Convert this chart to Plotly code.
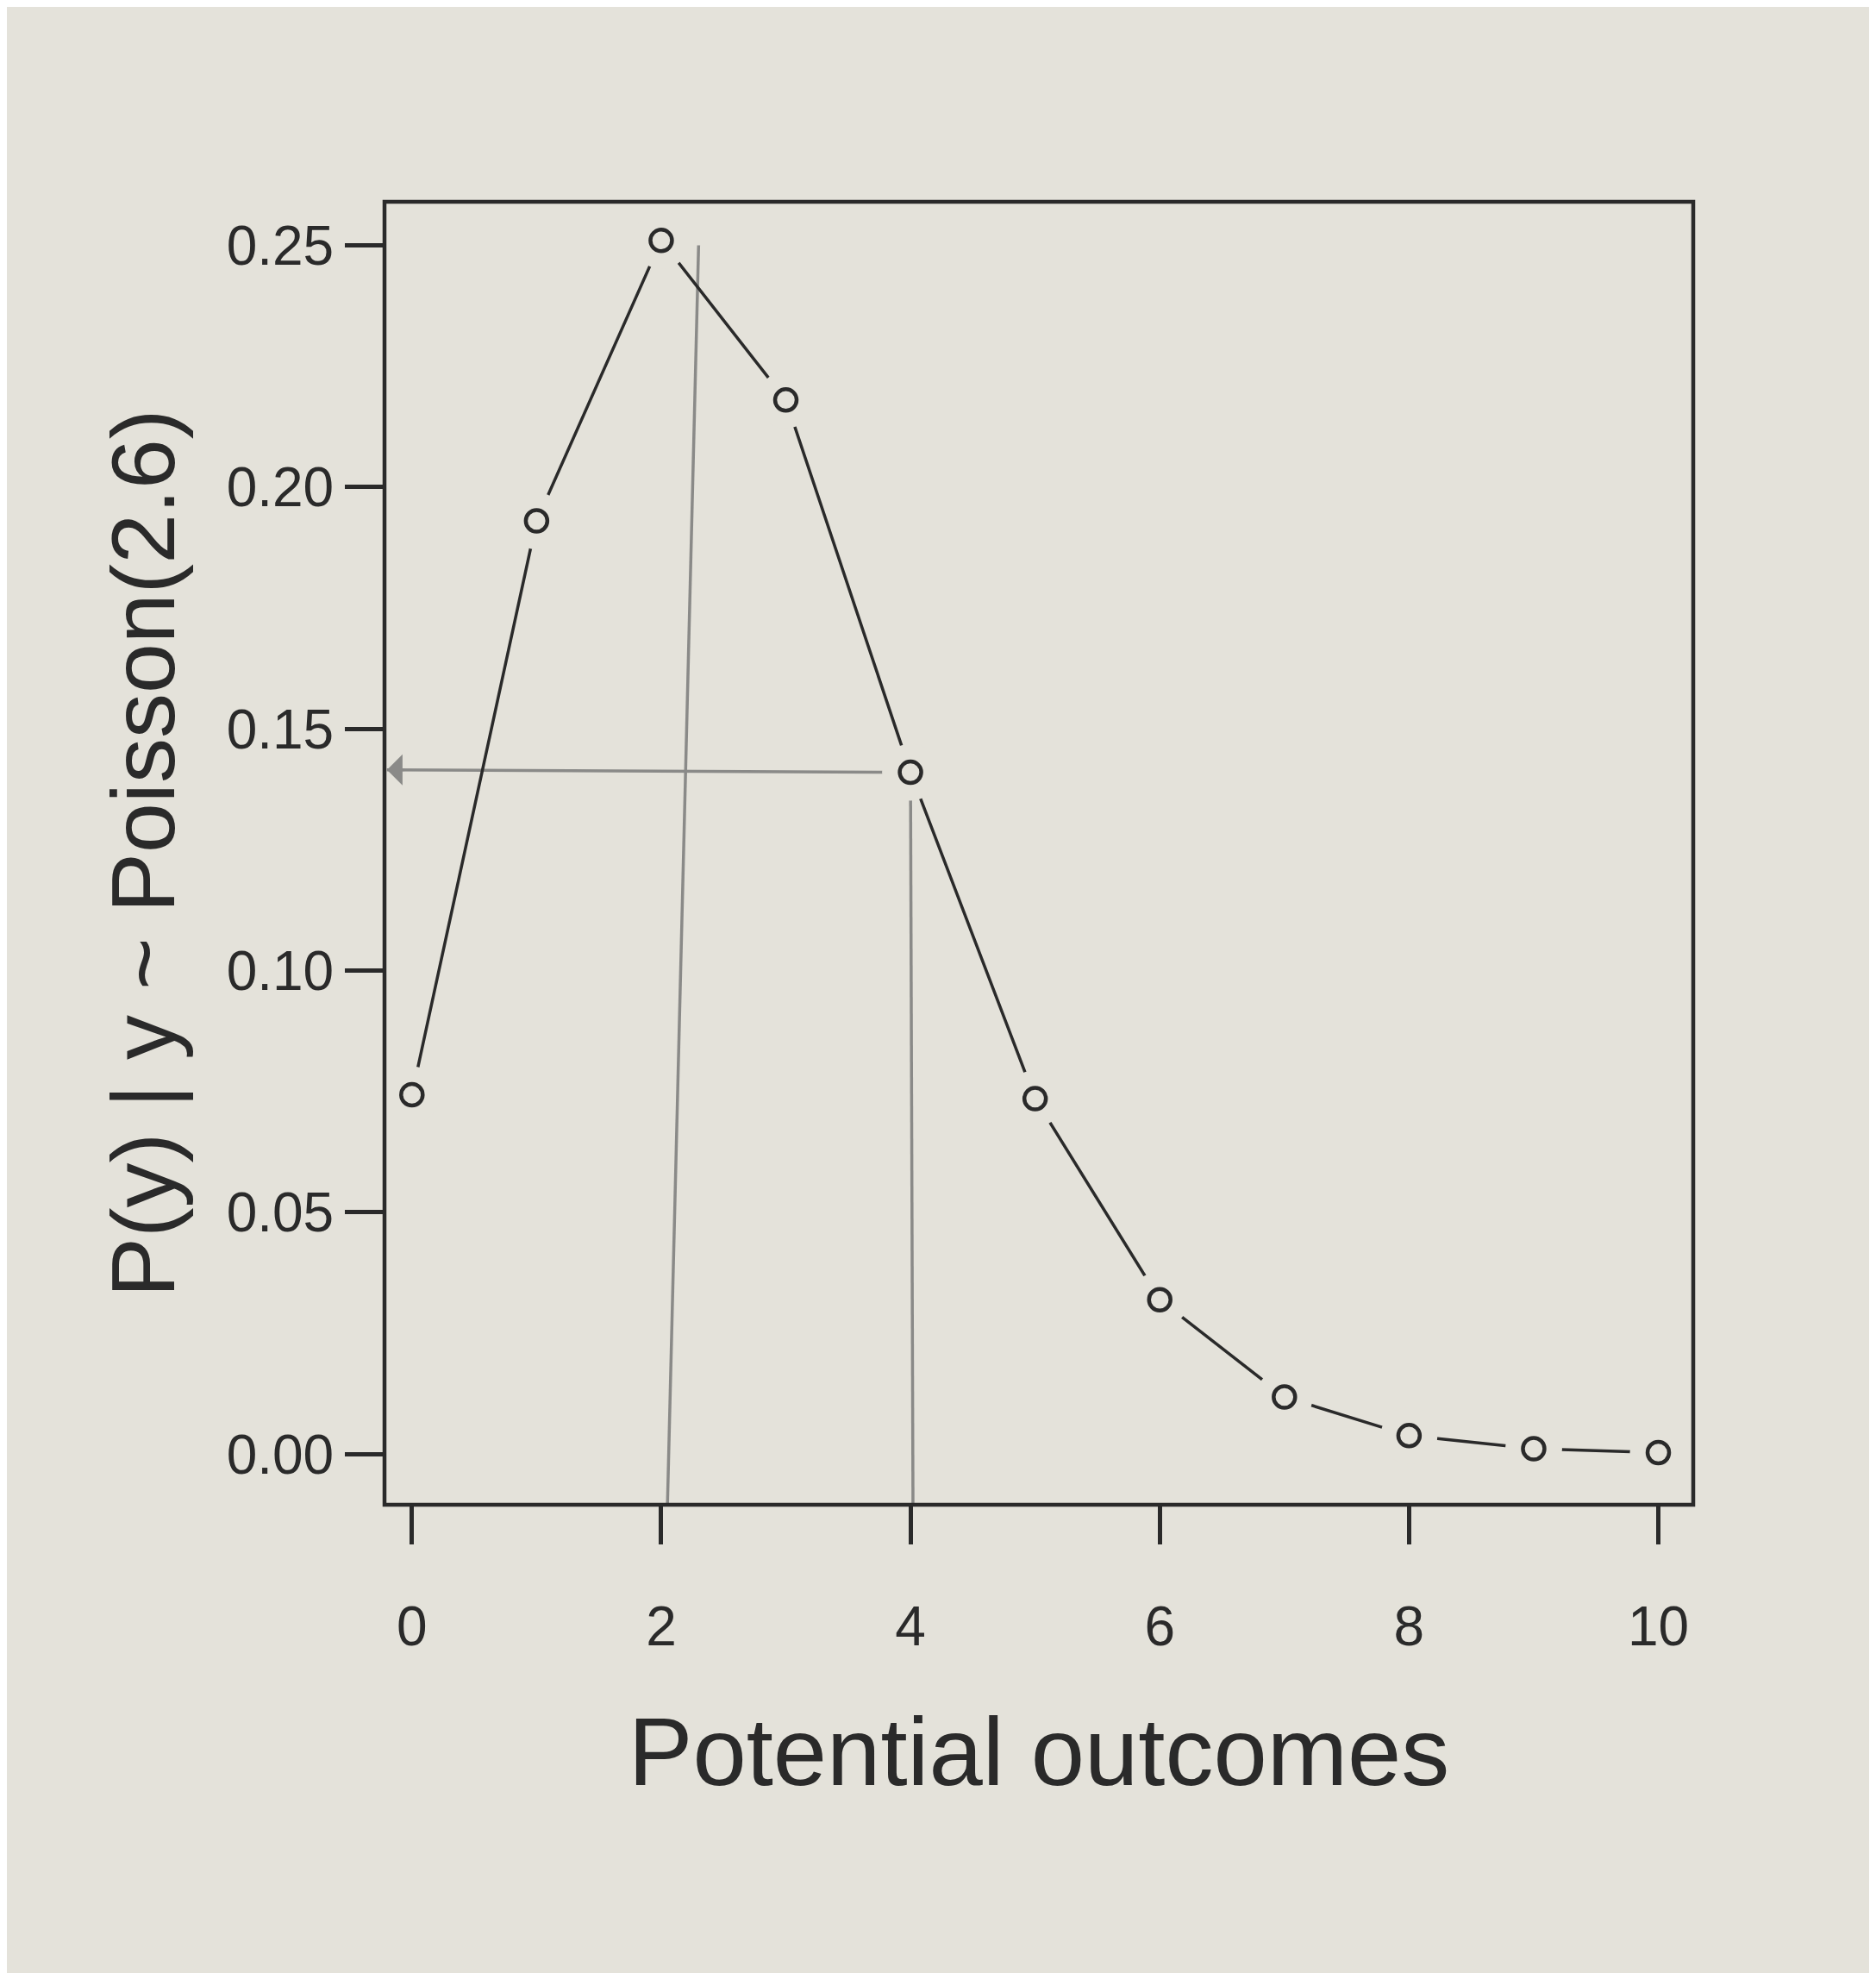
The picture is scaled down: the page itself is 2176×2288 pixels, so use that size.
import plotly.graph_objects as go

# Poisson(2.6) probabilities
outcomes = [0, 1, 2, 3, 4, 5, 6, 7, 8, 9, 10]
probs = [0.0743, 0.193, 0.251, 0.218, 0.141, 0.0735, 0.0319, 0.0118, 0.0038, 0.0011, 0.0003]

# pencil marks drawn on the page
pencil_v1_x = [2.3, 2.05]
pencil_v1_y = [0.25, -0.0105]
pencil_v2_x = [4.0, 4.02]
pencil_v2_y = [0.141, -0.0105]
pencil_h_x = [4.0, -0.2]
pencil_h_y = [0.141, 0.1415]

paper = "#e4e2da"
ink = "#2a2a2a"
pencil = "#8a8a88"

fig = go.Figure()
fig.add_trace(go.Scatter(x=pencil_v1_x, y=pencil_v1_y, mode="lines",
                         line=dict(color=pencil, width=3.5)))
fig.add_trace(go.Scatter(x=pencil_v2_x, y=pencil_v2_y, mode="lines",
                         line=dict(color=pencil, width=3.5)))
fig.add_trace(go.Scatter(x=pencil_h_x, y=pencil_h_y, mode="lines",
                         line=dict(color=pencil, width=3.5)))
fig.add_trace(go.Scatter(x=outcomes, y=probs, mode="lines",
                         line=dict(color=ink, width=3.5)))
# gap around points like R type="b"
fig.add_trace(go.Scatter(x=outcomes, y=probs, mode="markers",
                         marker=dict(size=66, color=paper, line=dict(width=0))))
fig.add_trace(go.Scatter(x=outcomes, y=probs, mode="markers",
                         marker=dict(size=25, color=paper, line=dict(color=ink, width=4.5))))

fig.add_annotation(x=-0.2, y=0.1415, ax=-0.05, ay=0.1415, xref="x", yref="y",
                   axref="x", ayref="y", showarrow=True, arrowhead=1, arrowsize=2,
                   arrowwidth=3, arrowcolor=pencil, text="")

fig.add_shape(type="rect", xref="paper", yref="paper", x0=0, y0=0, x1=1, y1=1,
              line=dict(color=ink, width=4.5))

font = dict(family="Liberation Sans, Arial, sans-serif", color=ink)
fig.update_layout(
    width=2176, height=2288,
    paper_bgcolor=paper, plot_bgcolor=paper,
    showlegend=False,
    margin=dict(l=438, r=220, t=226, b=551),
    font=font,
    xaxis=dict(range=[-0.22, 10.28], tickvals=[0, 2, 4, 6, 8, 10], showgrid=False,
               zeroline=False, ticks="outside", ticklen=45, tickwidth=4.5, tickcolor=ink,
               tickfont=dict(size=64, color=ink), ticklabelstandoff=40,
               title=dict(text="Potential outcomes", font=dict(size=112, color=ink), standoff=70)),
    yaxis=dict(range=[-0.0105, 0.259], tickvals=[0, 0.05, 0.10, 0.15, 0.20, 0.25],
               ticktext=["0.00", "0.05", "0.10", "0.15", "0.20", "0.25"],
               showgrid=False, zeroline=False, ticks="outside", ticklen=45, tickwidth=4.5,
               tickcolor=ink, tickfont=dict(size=64, color=ink),
               title=dict(text="P(y) | y ~ Poisson(2.6)", font=dict(size=104, color=ink),
                          standoff=25)),
)
fig.write_html("out.html")
